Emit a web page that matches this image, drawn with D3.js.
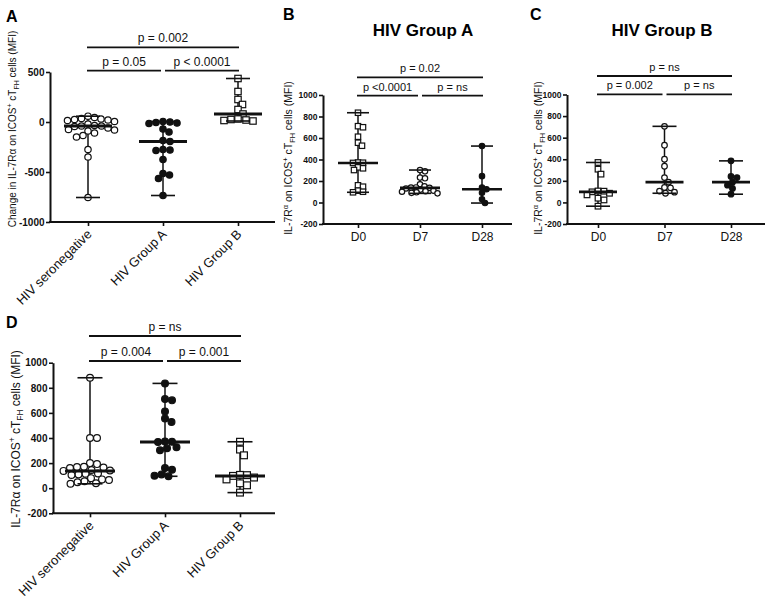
<!DOCTYPE html>
<html>
<head>
<meta charset="utf-8">
<script src="https://cdn.jsdelivr.net/npm/d3@7"></script>
<style>
  body { margin: 0; background: #fff; }
  svg { font-family: "Liberation Sans", Arial, sans-serif; }
</style>
</head>
<body>
<svg id="fig" width="765" height="599"></svg>
<script>
// ---- data ----
var groupNames = ["HIV seronegative", "HIV Group A", "HIV Group B"];
var dayNames = ["D0", "D7", "D28"];

var ticksA = [-1000, -500, 0, 500];
var ticksMFI = [-200, 0, 200, 400, 600, 800, 1000];

// panel A: change in MFI
var changeSeroneg = [58, 45, 35, 30, 25, 20, 15, 5, -20, -35, -40, -40, -45, -60, -75, -80, -90, -110, -135, -150, -275, -350, -755];
var changeGroupA = [5, 0, -5, -10, -15, -70, -100, -185, -195, -275, -280, -285, -375, -515, -530, -565, -735];
var changeGroupB = [435, 305, 225, 175, 125, 80, 30, 25, 20, 15, 10];

// panel B: HIV group A over time
var groupA_D0 = [835, 710, 700, 612, 556, 528, 372, 370, 368, 327, 318, 302, 160, 147, 110, 100, 95];
var groupA_D7 = [302, 290, 232, 225, 170, 150, 140, 138, 136, 130, 120, 110, 105, 100, 95, 90, 85];
var groupA_D28 = [525, 245, 140, 123, 90, 30, -5];

// panel C: HIV group B over time
var groupB_D0 = [370, 308, 262, 106, 104, 98, 85, 70, 39, 23, -35];
var groupB_D7 = [705, 530, 400, 335, 230, 188, 138, 135, 105, 95, 85];
var groupB_D28 = [385, 240, 230, 188, 160, 130, 76];

// panel D: baseline seronegative
var seronegBaseline = [880, 400, 400, 200, 192, 170, 168, 165, 160, 145, 141, 138, 118, 115, 110, 105, 80, 70, 65, 55, 48, 40, 35];

var sigA = [[0, 1, "p = 0.05", 0], [1, 2, "p < 0.0001", 0], [0, 2, "p = 0.002", 1]];
var sigB = [[0, 1, "p <0.0001", 0], [1, 2, "p = ns", 0], [0, 2, "p = 0.02", 1]];
var sigC = [[0, 1, "p = 0.002", 0], [1, 2, "p = ns", 0], [0, 2, "p = ns", 1]];
var sigD = [[0, 1, "p = 0.004", 0], [1, 2, "p = 0.001", 0], [0, 2, "p = ns", 1]];

var labelChange = [["Change in IL-7R\u03b1 on ICOS"], ["+", "sup"], [" cT"], ["FH", "sub"], [" cells (MFI)"]];
var labelAlphaSup = [["IL-7R"], ["\u03b1", "sup"], [" on ICOS"], ["+", "sup"], [" cT"], ["FH", "sub"], [" cells (MFI)"]];
var labelPlain = [["IL-7R\u03b1 on ICOS"], ["+", "sup"], [" cT"], ["FH", "sub"], [" cells (MFI)"]];

var panels = [
  { letter: "A", lx: 6, ly: 22, left: 50, right: 275, top: 72, bottom: 222,
    domain: [-1000, 500], ticks: ticksA, cats: groupNames, catRange: [88, 238], rotate: true,
    series: [changeSeroneg, changeGroupA, changeGroupB], marks: ["circle", "dot", "square"],
    sig: sigA, sigY: [70.7, 47.3], pSize: 12,
    label: labelChange, labelX: 16, labelY: 129, labelSize: 10,
    tickFont: 10, catFont: 13, r: 3.2, gap: 0.2, medHalf: 24, capHalf: 12, medWidth: 3 },
  { letter: "B", lx: 283, ly: 20, left: 323, right: 512, top: 95, bottom: 224,
    domain: [-200, 1000], ticks: ticksMFI, cats: dayNames, catRange: [358, 482], rotate: false,
    series: [groupA_D0, groupA_D7, groupA_D28], marks: ["square", "circle", "dot"],
    sig: sigB, sigY: [95.7, 77.3], pSize: 11, title: "HIV Group A", titleX: 423,
    label: labelAlphaSup, labelX: 292, labelY: 158, labelSize: 10.5,
    tickFont: 8.5, catFont: 12, r: 2.7, gap: -0.6, medHalf: 20, capHalf: 11, medWidth: 2.6 },
  { letter: "C", lx: 530, ly: 20, left: 567, right: 765, top: 94.5, bottom: 224,
    domain: [-200, 1000], ticks: ticksMFI, cats: dayNames, catRange: [598, 731], rotate: false,
    series: [groupB_D0, groupB_D7, groupB_D28], marks: ["square", "circle", "dot"],
    sig: sigC, sigY: [94.3, 76], pSize: 11, title: "HIV Group B", titleX: 662,
    label: labelAlphaSup, labelX: 542, labelY: 158, labelSize: 10.5,
    tickFont: 8.5, catFont: 12, r: 2.8, gap: 0.2, medHalf: 19, capHalf: 12, medWidth: 2.6 },
  { letter: "D", lx: 6, ly: 328, left: 53, right: 275, top: 362.7, bottom: 513.3,
    domain: [-200, 1000], ticks: ticksMFI, cats: groupNames, catRange: [90, 240], rotate: true,
    series: [seronegBaseline, groupA_D0, groupB_D0], marks: ["circle", "dot", "square"],
    sig: sigD, sigY: [361, 336], pSize: 12,
    label: labelPlain, labelX: 20, labelY: 439, labelSize: 12,
    tickFont: 10, catFont: 13, r: 3.4, gap: 0.2, medHalf: 25, capHalf: 12.5, medWidth: 3 }
];

// small helper so several attributes can be set at once
d3.selection.prototype.attrs = function(o) {
  var sel = this;
  Object.keys(o).forEach(function(k) { sel.attr(k, o[k]); });
  return sel;
};

var svg = d3.select("#fig");

// simple beeswarm: horizontal offsets so markers don't overlap
function swarm(values, y, r, gap) {
  var pts = values.map(function(v) { return { v: v, py: y(v), dx: 0 }; })
    .sort(function(a, b) { return a.py - b.py; });
  var placed = [];
  var d = 2 * r + gap;
  pts.forEach(function(p) {
    for (var k = 0; k < 400; k++) {
      var off = k === 0 ? 0 : (k % 2 ? 1 : -1) * Math.ceil(k / 2) * 0.5;
      var ok = placed.every(function(q) {
        var ex = q.dx - off, ey = q.py - p.py;
        return ex * ex + ey * ey >= d * d;
      });
      if (ok) { p.dx = off; break; }
    }
    placed.push(p);
  });
  return pts;
}

function addLabel(g, parts, size) {
  var t = g.append("text")
    .attrs({ "text-anchor": "middle", "font-size": size, "fill": "#111" });
  var shift = 0;
  parts.forEach(function(p) {
    var target = p[1] === "sup" ? -size * 0.38 : p[1] === "sub" ? size * 0.28 : 0;
    t.append("tspan")
      .attr("dy", target - shift)
      .attr("font-size", p[1] ? size * 0.7 : size)
      .text(p[0]);
    shift = target;
  });
}

panels.forEach(function(pn) {
  var g = svg.append("g");
  var y = d3.scaleLinear().domain(pn.domain).range([pn.bottom, pn.top]);
  var x = d3.scalePoint().domain(pn.cats).range(pn.catRange);

  // panel letter
  g.append("text")
    .attrs({ "x": pn.lx, "y": pn.ly, "font-size": 16, "font-weight": "bold" })
    .text(pn.letter);

  if (pn.title) {
    g.append("text")
      .attrs({ "x": pn.titleX, "y": 35.5, "font-size": 17, "font-weight": "bold", "text-anchor": "middle" })
      .text(pn.title);
  }

  // y axis
  var yAxis = d3.axisLeft(y)
    .tickValues(pn.ticks)
    .tickSize(4)
    .tickSizeOuter(0)
    .tickFormat(function(d) { return String(d); });
  var ya = g.append("g")
    .attr("transform", "translate(" + pn.left + ",0)")
    .call(yAxis);
  ya.select(".domain").attrs({ "stroke-width": 2, "stroke": "#111" });
  ya.selectAll(".tick line").attrs({ "stroke-width": 1.6, "stroke": "#111" });
  ya.selectAll(".tick text")
    .attrs({ "font-size": pn.tickFont, "font-weight": "bold", "font-family": "Liberation Sans, Arial, sans-serif", "fill": "#111", "x": -5.5 });

  // x axis
  var xAxis = d3.axisBottom(x).tickSize(4).tickSizeOuter(0);
  var xa = g.append("g")
    .attr("transform", "translate(0," + pn.bottom + ")")
    .call(xAxis);
  xa.select(".domain").remove();
  xa.append("line")
    .attrs({ "x1": pn.left - 1, "x2": pn.right, "y1": 0, "y2": 0, "stroke": "#111", "stroke-width": 2 });
  xa.selectAll(".tick line").attrs({ "stroke-width": 1.6, "stroke": "#111" });
  var xt = xa.selectAll(".tick text")
    .attrs({ "font-size": pn.catFont, "font-family": "Liberation Sans, Arial, sans-serif", "fill": "#111" });
  if (pn.rotate) {
    xt.attrs({ "text-anchor": "end", "dy": 0, "y": 0, "transform": "translate(4,13)rotate(-45)" });
  } else {
    xt.attrs({ "y": 8, "dy": "0.71em" });
  }

  // y label
  var lg = g.append("g")
    .attr("transform", "translate(" + pn.labelX + "," + pn.labelY + ")rotate(-90)");
  addLabel(lg, pn.label, pn.labelSize);

  // groups: whisker, points, caps and median
  pn.series.forEach(function(vals, i) {
    var cx = x(pn.cats[i]);
    var lo = d3.min(vals), hi = d3.max(vals), med = d3.median(vals);
    var sg = g.append("g");
    sg.append("line")
      .attrs({ "x1": cx, "x2": cx, "y1": y(lo), "y2": y(hi), "stroke": "#111", "stroke-width": 1.5 });

    var pts = swarm(vals, y, pn.r, pn.gap);
    var mk = pn.marks[i];
    if (mk === "square") {
      var s = pn.r * 2;
      sg.selectAll("rect").data(pts).enter().append("rect")
        .attrs({
          "x": function(d) { return cx + d.dx - s / 2; },
          "y": function(d) { return d.py - s / 2; },
          "width": s, "height": s,
          "fill": "#fff", "stroke": "#111", "stroke-width": 1.2
        });
    } else {
      sg.selectAll("circle").data(pts).enter().append("circle")
        .attrs({
          "cx": function(d) { return cx + d.dx; },
          "cy": function(d) { return d.py; },
          "r": pn.r,
          "fill": mk === "dot" ? "#111" : "#fff",
          "stroke": "#111", "stroke-width": 1.2
        });
    }

    [lo, hi].forEach(function(v) {
      sg.append("line")
        .attrs({ "x1": cx - pn.capHalf, "x2": cx + pn.capHalf, "y1": y(v), "y2": y(v), "stroke": "#111", "stroke-width": 1.6 });
    });
    sg.append("line")
      .attrs({ "x1": cx - pn.medHalf, "x2": cx + pn.medHalf, "y1": y(med), "y2": y(med), "stroke": "#111", "stroke-width": pn.medWidth });
  });

  // significance bars
  pn.sig.forEach(function(s) {
    var x1 = x(pn.cats[s[0]]) - 1, x2 = x(pn.cats[s[1]]) + 1;
    if (s[3] === 0 && s[0] > 0) x1 += 3;
    if (s[3] === 0 && s[1] < pn.cats.length - 1) x2 -= 3;
    var ly = pn.sigY[s[3]];
    g.append("line")
      .attrs({ "x1": x1, "x2": x2, "y1": ly, "y2": ly, "stroke": "#111", "stroke-width": 1.8 });
    g.append("text")
      .attrs({ "x": (x1 + x2) / 2, "y": ly - 5, "text-anchor": "middle", "font-size": pn.pSize, "fill": "#111" })
      .text(s[2]);
  });
});
</script>
</body>
</html>
